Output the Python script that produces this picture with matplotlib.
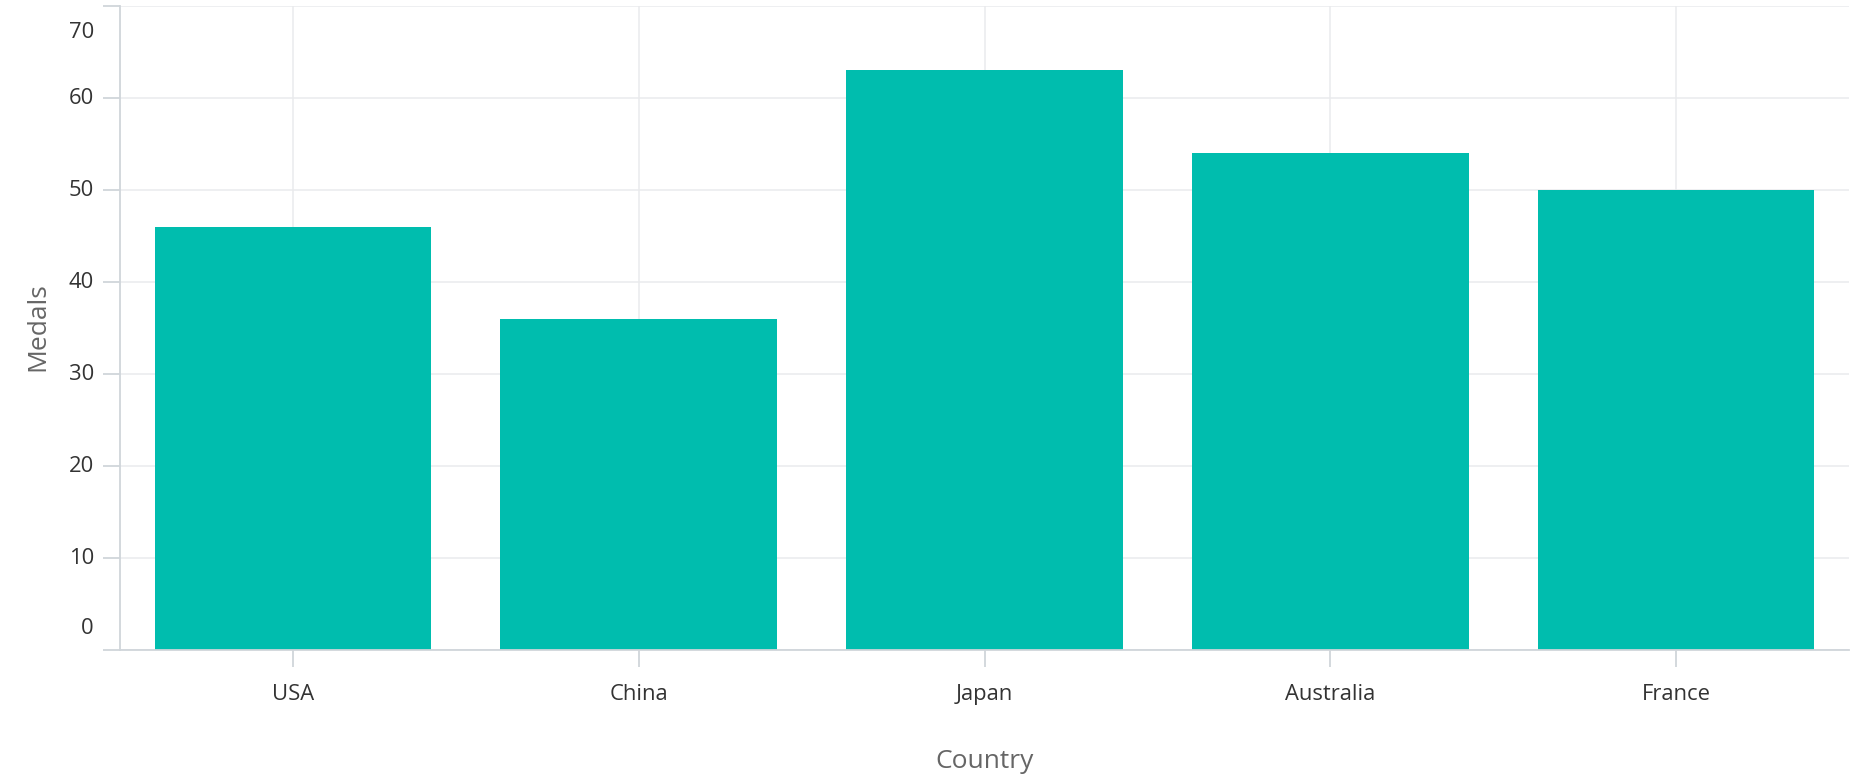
import matplotlib
matplotlib.use("Agg")
import matplotlib.pyplot as plt
import matplotlib.transforms as mtransforms

plt.rcParams["font.family"] = ["Open Sans", "DejaVu Sans"]

# 데이터
countries = ["USA", "China", "Japan", "Australia", "France"]
medals = [46, 36, 63, 54, 50]
y_ticks = [0, 10, 20, 30, 40, 50, 60, 70]

BAR_COLOR = "#00BDAE"
GRID_COLOR = "#EAEBED"
AXIS_COLOR = "#D0D5DA"
LABEL_COLOR = "#333333"
TITLE_COLOR = "#666666"

W, H, DPI = 1864, 783, 100
fig = plt.figure(figsize=(W / DPI, H / DPI), dpi=DPI, facecolor="white")
ax = fig.add_axes([120 / W, (H - 650) / H, (1849 - 120) / W, (650 - 6) / H])

x = range(len(countries))
ax.bar(x, medals, width=0.8, color=BAR_COLOR, zorder=3)

ax.set_xlim(-0.5, len(countries) - 0.5)
ax.set_ylim(0, 70)

# 그리드
ax.set_yticks(y_ticks)
ax.set_xticks(list(x))
ax.grid(True, color=GRID_COLOR, linewidth=1.1, zorder=0)
ax.set_axisbelow(True)

# 테두리
for side in ("top", "right"):
    ax.spines[side].set_visible(False)
for side in ("left", "bottom"):
    ax.spines[side].set_color(AXIS_COLOR)
    ax.spines[side].set_linewidth(1.3)
    ax.spines[side].set_zorder(4)

ax.tick_params(axis="both", direction="out", length=12, width=1.3, color=AXIS_COLOR)
ax.set_yticklabels([])
ax.set_xticklabels(countries, fontsize=15.8, color=LABEL_COLOR)
ax.tick_params(axis="x", pad=12.5)

# y 라벨: 양 끝 라벨은 안쪽으로 밀어 넣음
for v in y_ticks:
    dy = 0
    if v == y_ticks[-1]:
        dy = -26
    elif v == y_ticks[0]:
        dy = 22
    trans = ax.get_yaxis_transform() + mtransforms.ScaledTranslation(-26 / DPI, dy / DPI, fig.dpi_scale_trans)
    ax.text(0, v, str(v), transform=trans, ha="right", va="center",
            fontsize=15.8, color=LABEL_COLOR)

fig.text(0.5 * (120 + 1849) / W, 1 - 762 / H, "Country", ha="center", va="center",
         fontsize=19, color=TITLE_COLOR)
fig.text(38 / W, 1 - 327 / H, "Medals", rotation=90, ha="center", va="center",
         fontsize=19, color=TITLE_COLOR)

fig.savefig("out.png", dpi=DPI, facecolor="white")
